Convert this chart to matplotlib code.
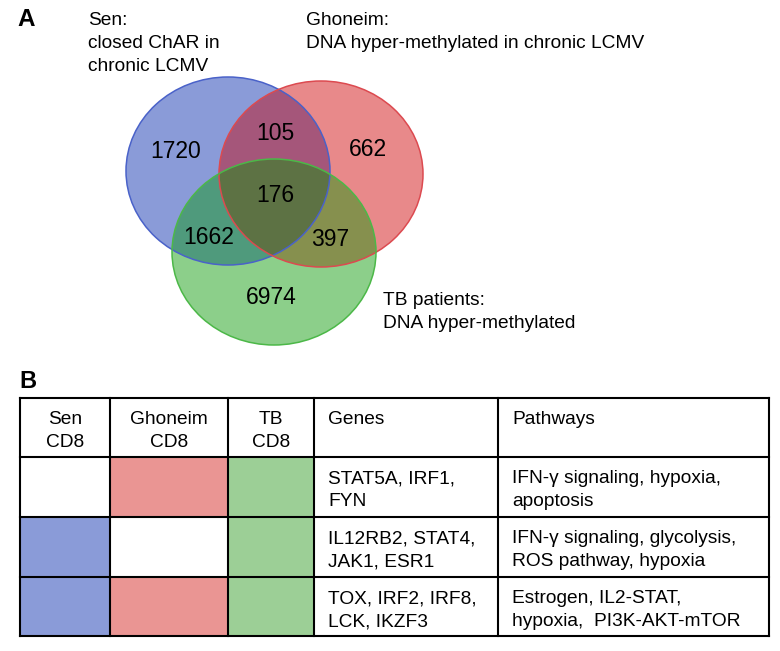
import numpy as np
import matplotlib
matplotlib.use("Agg")
import matplotlib.pyplot as plt
from matplotlib.patches import Ellipse, Polygon, Rectangle

plt.rcParams['font.family'] = ['Liberation Sans', 'DejaVu Sans']

# ---------------- data ----------------
set_names = ["Sen", "Ghoneim", "TB"]
set_labels = ["Sen:\nclosed ChAR in\nchronic LCMV",
              "Ghoneim:\nDNA hyper-methylated in chronic LCMV",
              "TB patients:\nDNA hyper-methylated"]
region_codes = ["100", "010", "001", "110", "101", "011", "111"]
region_counts = [1720, 662, 6974, 105, 1662, 397, 176]

table_header = ["Sen\nCD8", "Ghoneim\nCD8", "TB\nCD8", "Genes", "Pathways"]
membership = [[0, 1, 1], [1, 0, 1], [1, 1, 1]]
genes = ["STAT5A, IRF1,\nFYN", "IL12RB2, STAT4,\nJAK1, ESR1", "TOX, IRF2, IRF8,\nLCK, IKZF3"]
pathways = ["IFN-\u03b3 signaling, hypoxia,\napoptosis",
            "IFN-\u03b3 signaling, glycolysis,\nROS pathway, hypoxia",
            "Estrogen, IL2-STAT,\nhypoxia,  PI3K-AKT-mTOR"]

# ---------------- style / layout ----------------
ell_geom = [((228, 171), 204, 188), ((321, 174), 204, 186), ((274, 252), 204, 186)]
edge_cols = ["#4a62c9", "#dc4a50", "#4cb848"]
region_cols = {"100": "#8a9bd8", "010": "#e8898a", "001": "#8ccf8a",
               "110": "#a5567a", "101": "#4f9a7c", "011": "#86904e", "111": "#5d7244"}
count_pos = {"100": (176, 151), "010": (368, 150), "001": (271, 298),
             "110": (275, 133), "101": (209, 238), "011": (330, 240), "111": (275, 195)}
label_pos = [(88, 25), (306, 25), (383, 305)]
cell_cols = ["#8a9bd8", "#ea9593", "#9ccf96"]
col_x = [20, 110, 228, 314, 498, 769]
row_y = [398, 457, 517, 577, 636]
FS = 13.8
LINE = 23.2

fig = plt.figure(figsize=(7.8, 6.51), dpi=100)
ax = fig.add_axes([0, 0, 1, 1])
ax.set_xlim(0, 780)
ax.set_ylim(651, 0)
ax.axis('off')


def lines(x, y, s, ha='left', **kw):
    for k, ln in enumerate(s.split("\n")):
        ax.text(x, y + k * LINE, ln, ha=ha, va='baseline', fontsize=FS, **kw)


def ell_boundary(g, n=1440):
    (cx, cy), w, h = g
    t = np.linspace(0, 2 * np.pi, n, endpoint=False)
    return np.column_stack([cx + w / 2 * np.cos(t), cy + h / 2 * np.sin(t)])


def inside(p, g):
    (cx, cy), w, h = g
    return ((p[:, 0] - cx) / (w / 2)) ** 2 + ((p[:, 1] - cy) / (h / 2)) ** 2 <= 1 + 1e-9


def region_poly(idx):
    pts = []
    for i in idx:
        b = ell_boundary(ell_geom[i])
        m = np.ones(len(b), bool)
        for j in idx:
            if j != i:
                m &= inside(b, ell_geom[j])
        pts.append(b[m])
    pts = np.vstack(pts)
    c = pts.mean(axis=0)
    ang = np.arctan2(pts[:, 1] - c[1], pts[:, 0] - c[0])
    return pts[np.argsort(ang)]


# full circles
for i, g in enumerate(ell_geom):
    ax.add_patch(Ellipse(g[0], g[1], g[2], facecolor=region_cols[region_codes[i]],
                         edgecolor='none', zorder=1))
# overlaps
for code in region_codes[3:]:
    idx = [k for k, ch in enumerate(code) if ch == "1"]
    ax.add_patch(Polygon(region_poly(idx), closed=True, facecolor=region_cols[code],
                         edgecolor='none', zorder=2 if len(idx) == 2 else 3))
# edges
for i, g in enumerate(ell_geom):
    ax.add_patch(Ellipse(g[0], g[1], g[2], facecolor='none',
                         edgecolor=edge_cols[i], lw=1.1, zorder=4))

for code, n in zip(region_codes, region_counts):
    x, y = count_pos[code]
    ax.text(x, y, str(n), ha='center', va='center', fontsize=16.5, zorder=5)

for (x, y), lab in zip(label_pos, set_labels):
    lines(x, y, lab)

ax.text(17, 26, "A", fontsize=17.5, fontweight='bold', va='baseline', ha='left')
ax.text(19, 388, "B", fontsize=17, fontweight='bold', va='baseline', ha='left')

# ---------------- table ----------------
for r, mem in enumerate(membership):
    for c, on in enumerate(mem):
        if on:
            ax.add_patch(Rectangle((col_x[c], row_y[r + 1]), col_x[c + 1] - col_x[c],
                                   row_y[r + 2] - row_y[r + 1], facecolor=cell_cols[c],
                                   edgecolor='none', zorder=1))

for x in col_x:
    ax.plot([x, x], [row_y[0], row_y[-1]], color='black', lw=1.5, zorder=3,
            solid_capstyle='projecting')
for y in row_y:
    ax.plot([col_x[0], col_x[-1]], [y, y], color='black', lw=1.5, zorder=3,
            solid_capstyle='projecting')

for c, h in enumerate(table_header):
    if c < 3:
        lines((col_x[c] + col_x[c + 1]) / 2, row_y[0] + 26, h, ha='center')
    else:
        lines(col_x[c] + 14, row_y[0] + 26, h)

for r in range(len(genes)):
    y0 = row_y[r + 1] + 26
    lines(col_x[3] + 14, y0, genes[r])
    lines(col_x[4] + 14, y0, pathways[r])

fig.savefig("out.png", dpi=100)
